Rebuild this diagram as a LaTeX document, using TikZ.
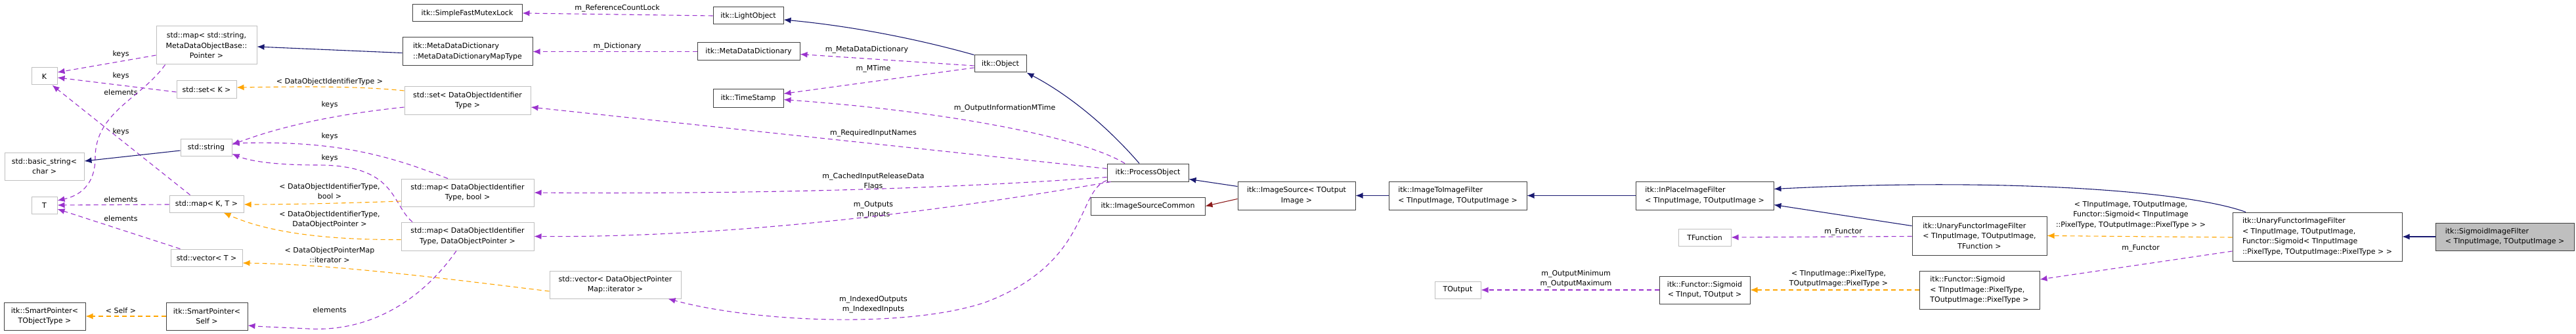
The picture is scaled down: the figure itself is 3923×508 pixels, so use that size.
\documentclass[tikz,border=0pt]{standalone}
\usepackage{fontspec}
\setmainfont{DejaVu Sans}
\usetikzlibrary{arrows.meta}
\definecolor{navy}{HTML}{191970}
\definecolor{pur}{HTML}{9A32CD}
\definecolor{org}{HTML}{FFA500}
\definecolor{dred}{HTML}{8B1A1A}
\newcommand{\bx}[7]{\node[#6,minimum width={#4-#2},minimum height={#5-#3}] (#1) at ({(#2+#4)/2},{(#3+#5)/2}) {#7};}
\begin{document}
\begin{tikzpicture}[x=1pt,y=-1pt,
  every node/.style={font=\fontsize{11}{15.5}\selectfont,inner sep=0pt},
  box/.style={draw=black!75,line width=1pt,fill=white,align=center},
  lbox/.style={box,align=left},
  gbox/.style={draw=black!25,line width=1pt,fill=white,align=center},
  cur/.style={draw=black!75,line width=1pt,fill=black!25,align=left},
  lab/.style={align=center},
  tip/.style={-{Latex[length=11pt,width=9pt]}},
  inh/.style={tip,draw=navy,line width=1.1pt},
  priv/.style={tip,draw=dred,line width=1.1pt},
  use/.style={tip,draw=pur,line width=1.1pt,dash pattern=on 7pt off 5pt},
  tmp/.style={tip,draw=org,line width=1.1pt,dash pattern=on 7pt off 5pt}]
\useasboundingbox (0,0) rectangle (3923,508);
% nodes
\bx{smap}{238}{40}{391}{98}{gbox}{std::map< std::string,\\MetaDataObjectBase::\\Pointer >}
\bx{K}{48}{103}{87}{129}{gbox}{K}
\bx{setK}{269}{123}{360}{149}{gbox}{std::set< K >}
\bx{str}{275}{211}{353}{237}{gbox}{std::string}
\bx{basic}{7}{232}{128}{274}{gbox}{std::basic\_string<\\char >}
\bx{T}{48}{299}{87}{325}{gbox}{T}
\bx{mapKT}{258}{297}{371}{323}{gbox}{std::map< K, T >}
\bx{vecT}{260}{379}{369}{405}{gbox}{std::vector< T >}
\bx{spT}{6}{460}{130}{502}{box}{itk::SmartPointer<\\TObjectType >}
\bx{spSelf}{253}{460}{377}{502}{box}{itk::SmartPointer<\\Self >}
\bx{mutex}{628}{7}{795}{33}{box}{itk::SimpleFastMutexLock}
\bx{mdmap}{613}{57}{811}{100}{lbox}{itk::MetaDataDictionary\\::MetaDataDictionaryMapType}
\bx{setD}{616}{132}{808}{174}{gbox}{std::set< DataObjectIdentifier\\Type >}
\bx{mapB}{611}{272}{813}{314}{gbox}{std::map< DataObjectIdentifier\\Type, bool >}
\bx{mapP}{611}{338}{813}{381}{gbox}{std::map< DataObjectIdentifier\\Type, DataObjectPointer >}
\bx{vecI}{837}{412}{1037}{454}{gbox}{std::vector< DataObjectPointer\\Map::iterator >}
\bx{light}{1086}{11}{1193}{37}{box}{itk::LightObject}
\bx{mdd}{1062}{65}{1218}{92}{box}{itk::MetaDataDictionary}
\bx{ts}{1086}{136}{1193}{163}{box}{itk::TimeStamp}
\bx{obj}{1484}{84}{1563}{110}{box}{itk::Object}
\bx{proc}{1686}{249}{1810}{276}{box}{itk::ProcessObject}
\bx{isc}{1661}{300}{1835}{327}{box}{itk::ImageSourceCommon}
\bx{is}{1885}{276}{2064}{319}{box}{itk::ImageSource< TOutput\\Image >}
\bx{itoi}{2115}{276}{2325}{319}{lbox}{itk::ImageToImageFilter\\< TInputImage, TOutputImage >}
\bx{ip}{2491}{276}{2701}{319}{lbox}{itk::InPlaceImageFilter\\< TInputImage, TOutputImage >}
\bx{tout}{2185}{428}{2255}{454}{gbox}{TOutput}
\bx{tf}{2556}{348}{2636}{374}{gbox}{TFunction}
\bx{su}{2912}{329}{3117}{388}{lbox}{itk::UnaryFunctorImageFilter\\< TInputImage, TOutputImage,\\\hfill TFunction >\hfill\null}
\bx{fs}{2527}{420}{2665}{462}{box}{itk::Functor::Sigmoid\\< TInput, TOutput >}
\bx{sigP}{2923}{412}{3106}{470}{lbox}{itk::Functor::Sigmoid\\< TInputImage::PixelType,\\ TOutputImage::PixelType >}
\bx{bu}{3400}{323}{3658}{397}{lbox}{itk::UnaryFunctorImageFilter\\< TInputImage, TOutputImage,\\ Functor::Sigmoid< TInputImage\\::PixelType, TOutputImage::PixelType > >}
\bx{sif}{3709}{339}{3920}{381}{cur}{itk::SigmoidImageFilter\\< TInputImage, TOutputImage >}
% labels
\node[lab] (l1) at (184,82) {keys};
\node[lab] (l2) at (184,115) {keys};
\node[lab] (l3) at (184,140) {elements};
\node[lab] (l4) at (184,200) {keys};
\node[lab] (l5) at (184,303) {elements};
\node[lab] (l6) at (184,332) {elements};
\node[lab] (l7) at (184,472) {< Self >};
\node[lab] (l8) at (502,124) {< DataObjectIdentifierType >};
\node[lab] (l9) at (502,159) {keys};
\node[lab] (l10) at (502,207) {keys};
\node[lab] (l11) at (502,240) {keys};
\node[lab] (l12) at (502,291) {< DataObjectIdentifierType,\\bool >};
\node[lab] (l13) at (502,334) {< DataObjectIdentifierType,\\DataObjectPointer >};
\node[lab] (l14) at (502,388) {< DataObjectPointerMap\\::iterator >};
\node[lab] (l15) at (502,471) {elements};
\node[lab] (l16) at (940,13) {m\_ReferenceCountLock};
\node[lab] (l17) at (940,71) {m\_Dictionary};
\node[lab] (l18) at (1320,76) {m\_MetaDataDictionary};
\node[lab] (l19) at (1330,105) {m\_MTime};
\node[lab] (l20) at (1530,165) {m\_OutputInformationMTime};
\node[lab] (l21) at (1330,203) {m\_RequiredInputNames};
\node[lab] (l22) at (1330,276) {m\_CachedInputReleaseData\\Flags};
\node[lab] (l23) at (1330,319) {m\_Outputs\\m\_Inputs};
\node[lab] (l24) at (1330,463) {m\_IndexedOutputs\\m\_IndexedInputs};
\node[lab] (l25) at (2400,424) {m\_OutputMinimum\\m\_OutputMaximum};
\node[lab] (l26) at (2807,353) {m\_Functor};
\node[lab] (l27) at (2800,424) {< TInputImage::PixelType,\\TOutputImage::PixelType >};
\node[lab] (l28) at (3245,327) {< TInputImage, TOutputImage,\\Functor::Sigmoid< TInputImage\\::PixelType, TOutputImage::PixelType > >};
\node[lab] (l29) at (3260,378) {m\_Functor};
% edges
\draw[use] ([yshift=-15pt]smap.west) -- ([yshift=6pt]K.east);
\draw[use] ([yshift=-4pt]setK.west) -- ([yshift=-2pt]K.east);
\draw[use] ([xshift=14pt]smap.south west) .. controls (215,150) and (145,170) .. (145,240) .. controls (145,290) and (110,300) .. ([yshift=7pt]T.east);
\draw[use] ([xshift=-25pt]mapKT.north) -- ([xshift=12pt]K.south);
\draw[inh] ([yshift=-5pt]str.west) -- ([yshift=8pt]basic.east);
\draw[use] ([yshift=-1pt]mapKT.west) -- (T.east);
\draw[use] ([xshift=-40pt]vecT.north) -- ([yshift=-6pt]T.east);
\draw[tmp] (spSelf.west) -- (spT.east);
\draw[inh] ([yshift=-2pt]mdmap.west) -- ([yshift=-2pt]smap.east);
\draw[tmp] ([yshift=15pt]setD.west) .. controls (540,130) and (440,132) .. ([yshift=3pt]setK.east);
\draw[use] ([yshift=-10pt]setD.west) .. controls (500,175) and (420,195) .. ([yshift=4pt]str.east);
\draw[use] ([xshift=-30pt]mapB.north) .. controls (600,240) and (520,213) .. ([yshift=6pt]str.east);
\draw[use] ([xshift=-84pt]mapP.north) .. controls (595,310) and (605,250) .. (480,251) .. controls (420,251) and (380,245) .. ([yshift=-10pt]str.east);
\draw[tmp] ([yshift=-13pt]mapB.west) .. controls (500,310) and (420,311) .. ([yshift=-1pt]mapKT.east);
\draw[tmp] ([yshift=-5pt]mapP.west) .. controls (480,365) and (400,350) .. ([xshift=26pt]mapKT.south);
\draw[tmp] ([yshift=-10pt]vecI.west) .. controls (650,420) and (500,402) .. ([yshift=-8pt]vecT.east);
\draw[use] ([xshift=-17pt]mapP.south) .. controls (640,460) and (560,505) .. (470,500) .. controls (430,498) and (400,497) .. ([yshift=-14pt]spSelf.east);
\draw[use] (light.west) -- (mutex.east);
\draw[use] (mdd.west) -- (mdmap.east);
\draw[use] ([yshift=-3pt]obj.west) -- ([yshift=-4pt]mdd.east);
\draw[use] ([yshift=-6pt]obj.west) -- ([yshift=7pt]ts.east);
\draw[inh] (obj.north west) .. controls (1400,60) and (1300,40) .. ([yshift=-6pt]light.east);
\draw[inh] ([xshift=-13pt]proc.north) .. controls (1680,185) and (1620,140) .. (obj.south east);
\draw[use] ([xshift=-35pt]proc.north) .. controls (1650,210) and (1450,170) .. ([yshift=-2pt]ts.east);
\draw[use] ([yshift=6pt]proc.west) -- ([yshift=-10pt]setD.east);
\draw[use] ([yshift=-7pt]proc.west) .. controls (1400,290) and (1100,295) .. (mapB.east);
\draw[use] ([xshift=6pt]proc.south west) .. controls (1500,310) and (1150,362) .. (mapP.east);
\draw[use] ([yshift=-12pt]proc.west) .. controls (1640,290) and (1660,400) .. (1500,460) .. controls (1380,500) and (1150,490) .. ([xshift=-20pt]vecI.south east);
\draw[inh] ([yshift=14pt]is.west) -- ([yshift=-10pt]proc.east);
\draw[priv] ([yshift=-5pt]is.west) -- (isc.east);
\draw[inh] (itoi.west) -- (is.east);
\draw[inh] (ip.west) -- (itoi.east);
\draw[inh] ([yshift=15pt]su.west) -- ([yshift=-14pt]ip.east);
\draw[inh] ([xshift=-109pt]bu.north) .. controls (3330,290) and (3050,270) .. ([yshift=10pt]ip.east);
\draw[use] ([yshift=-1pt]su.west) -- (tf.east);
\draw[tmp] ([yshift=-1pt]bu.west) -- (su.east);
\draw[use] ([yshift=-22pt]bu.west) -- ([yshift=16pt]sigP.east);
\draw[tmp] (sigP.west) -- (fs.east);
\draw[use] (fs.west) -- (tout.east);
\draw[inh] (sif.west) -- (bu.east);
\end{tikzpicture}
\end{document}
